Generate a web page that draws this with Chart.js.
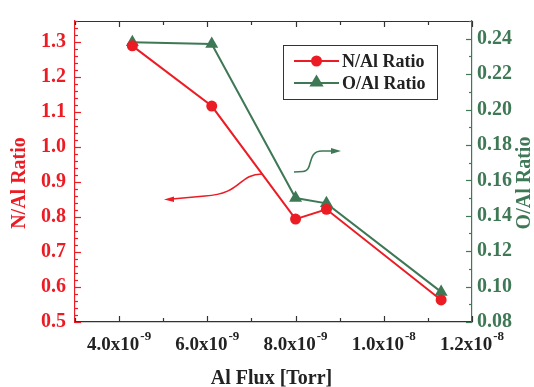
<!DOCTYPE html>
<html>
<head>
<meta charset="utf-8">
<script src="https://cdn.jsdelivr.net/npm/chart.js@4.4.1/dist/chart.umd.min.js"></script>
<style>
  html, body { margin: 0; padding: 0; background: #fff; }
</style>
</head>
<body>
<canvas id="myChart" width="534" height="387"></canvas>
<script>
// data
const alFlux = [4.3e-9, 6.1e-9, 8.0e-9, 8.7e-9, 1.13e-8];
const nAlRatio = [1.289, 1.117, 0.794, 0.822, 0.563];
const oAlRatio = [0.238, 0.237, 0.150, 0.147, 0.097];

const xTickVals = [4e-9, 6e-9, 8e-9, 1e-8, 1.2e-8];
const xTickMant = ["4.0x10", "6.0x10", "8.0x10", "1.0x10", "1.2x10"];
const xTickExp = ["-9", "-9", "-9", "-8", "-8"];
const leftTicks = [0.5, 0.6, 0.7, 0.8, 0.9, 1.0, 1.1, 1.2, 1.3];
const rightTicks = [0.08, 0.10, 0.12, 0.14, 0.16, 0.18, 0.20, 0.22, 0.24];

const RED = "#ec1c24";
const GREEN = "#3e7855";
const FONT = "'Liberation Serif', 'Times New Roman', serif";

function pts(xs, ys) {
  let out = [];
  for (let i = 0; i < xs.length; i++) out.push({ x: xs[i], y: ys[i] });
  return out;
}

function triangle(ctx, x, y, r) {
  ctx.beginPath();
  ctx.moveTo(x, y - r);
  ctx.lineTo(x + r * 0.95, y + r * 0.6);
  ctx.lineTo(x - r * 0.95, y + r * 0.6);
  ctx.closePath();
  ctx.fill();
}

const decor = {
  id: "decor",
  afterDraw(chart) {
    const ctx = chart.ctx;
    const a = chart.chartArea;
    const xs = chart.scales.x, yl = chart.scales.yL, yr = chart.scales.yR;
    ctx.save();

    // top frame line
    ctx.strokeStyle = "#333";
    ctx.lineWidth = 1.2;
    ctx.beginPath();
    ctx.moveTo(a.left, a.top + 0.5);
    ctx.lineTo(a.right, a.top + 0.5);
    ctx.stroke();

    // inward ticks on x (bottom and top)
    for (let i = 3; i <= 12; i++) {
      const px = Math.round(xs.getPixelForValue(i * 1e-9)) + 0.5;
      const len = i % 2 == 0 ? 6 : 4;
      ctx.beginPath();
      ctx.moveTo(px, a.bottom); ctx.lineTo(px, a.bottom - len);
      ctx.moveTo(px, a.top); ctx.lineTo(px, a.top + len);
      ctx.stroke();
    }

    // left axis ticks
    ctx.strokeStyle = RED;
    for (let i = 0; i <= 43; i++) {
      const py = Math.round(yl.getPixelForValue(0.5 + i * 0.02)) + 0.5;
      const len = i % 5 == 0 ? 6 : 3;
      ctx.beginPath();
      ctx.moveTo(a.left, py); ctx.lineTo(a.left + len, py);
      ctx.stroke();
    }

    // right axis ticks
    ctx.strokeStyle = GREEN;
    for (let i = 8; i <= 25; i++) {
      const py = Math.round(yr.getPixelForValue(i * 0.01)) + 0.5;
      const len = i % 2 == 0 ? 6 : 3;
      ctx.beginPath();
      ctx.moveTo(a.right, py); ctx.lineTo(a.right - len, py);
      ctx.stroke();
    }

    // x tick labels with superscript exponents
    ctx.fillStyle = "#222";
    ctx.textBaseline = "alphabetic";
    for (let i = 0; i < xTickVals.length; i++) {
      const px = xs.getPixelForValue(xTickVals[i]);
      ctx.font = "bold 19px " + FONT;
      const w1 = ctx.measureText(xTickMant[i]).width;
      ctx.font = "bold 13px " + FONT;
      const w2 = ctx.measureText(xTickExp[i]).width;
      const x0 = px - (w1 + w2 + 1) / 2;
      ctx.font = "bold 19px " + FONT;
      ctx.textAlign = "left";
      ctx.fillText(xTickMant[i], x0, 350);
      ctx.font = "bold 13px " + FONT;
      ctx.fillText(xTickExp[i], x0 + w1 + 1, 340);
    }

    // axis titles
    ctx.font = "bold 20px " + FONT;
    ctx.textAlign = "center";
    ctx.textBaseline = "middle";
    ctx.fillStyle = "#222";
    ctx.fillText("Al Flux [Torr]", (a.left + a.right) / 2 - 2, 379);

    ctx.save();
    ctx.translate(20, 183);
    ctx.rotate(-Math.PI / 2);
    ctx.fillStyle = RED;
    ctx.fillText("N/Al Ratio", 0, 0);
    ctx.restore();

    ctx.save();
    ctx.translate(525, 183);
    ctx.rotate(-Math.PI / 2);
    ctx.fillStyle = GREEN;
    ctx.fillText("O/Al Ratio", 0, 0);
    ctx.restore();

    // legend
    ctx.strokeStyle = "#333";
    ctx.lineWidth = 1;
    ctx.strokeRect(283.5, 45.5, 154, 54);
    ctx.lineWidth = 2;
    ctx.strokeStyle = RED;
    ctx.beginPath(); ctx.moveTo(294, 61); ctx.lineTo(339, 61); ctx.stroke();
    ctx.fillStyle = RED;
    ctx.beginPath(); ctx.arc(316.5, 61, 5.5, 0, Math.PI * 2); ctx.fill();
    ctx.strokeStyle = GREEN;
    ctx.beginPath(); ctx.moveTo(294, 83); ctx.lineTo(339, 83); ctx.stroke();
    ctx.fillStyle = GREEN;
    triangle(ctx, 316.5, 82, 7.5);
    ctx.fillStyle = "#222";
    ctx.font = "bold 18px " + FONT;
    ctx.textAlign = "left";
    ctx.fillText("N/Al Ratio", 342, 62);
    ctx.fillText("O/Al Ratio", 342, 84);

    // curved arrows pointing to each axis
    ctx.lineWidth = 1.6;
    ctx.strokeStyle = RED;
    ctx.fillStyle = RED;
    ctx.beginPath();
    ctx.moveTo(262, 174);
    ctx.bezierCurveTo(238, 174, 242, 194, 205, 196);
    ctx.lineTo(172, 199);
    ctx.stroke();
    ctx.beginPath();
    ctx.moveTo(164, 199.5); ctx.lineTo(174, 196.5); ctx.lineTo(174, 202); ctx.closePath();
    ctx.fill();

    ctx.strokeStyle = GREEN;
    ctx.fillStyle = GREEN;
    ctx.beginPath();
    ctx.moveTo(294, 172);
    ctx.lineTo(303, 171.5);
    ctx.bezierCurveTo(314, 171, 306, 151, 322, 151);
    ctx.lineTo(333, 151);
    ctx.stroke();
    ctx.beginPath();
    ctx.moveTo(341, 151); ctx.lineTo(331, 148); ctx.lineTo(331, 154); ctx.closePath();
    ctx.fill();

    ctx.restore();
  }
};

const config = {
  type: "line",
  data: {
    datasets: [
      {
        label: "N/Al Ratio",
        data: pts(alFlux, nAlRatio),
        yAxisID: "yL",
        borderColor: RED,
        backgroundColor: RED,
        borderWidth: 2,
        pointRadius: 5.5,
        pointBorderWidth: 0,
        pointStyle: "circle",
      },
      {
        label: "O/Al Ratio",
        data: pts(alFlux, oAlRatio),
        yAxisID: "yR",
        borderColor: GREEN,
        backgroundColor: GREEN,
        borderWidth: 2,
        pointRadius: 7.5,
        pointBorderWidth: 0,
        pointStyle: "triangle",
      },
    ],
  },
  options: {
    responsive: false,
    animation: false,
    layout: { padding: { top: 13, left: 0, right: 0, bottom: 0 } },
    plugins: { legend: { display: false }, tooltip: { enabled: false } },
    scales: {
      x: {
        type: "linear",
        min: 3e-9,
        max: 1.2e-8,
        grid: { display: false },
        border: { display: true, color: "#333", width: 1.2 },
        ticks: { display: false },
        afterFit: function (s) { s.height = 65; },
      },
      yL: {
        type: "linear",
        position: "left",
        min: 0.5,
        max: 1.36,
        grid: { display: false, drawTicks: false },
        border: { display: true, color: RED, width: 1.2 },
        afterBuildTicks: function (s) { s.ticks = leftTicks.map(v => ({ value: v })); },
        ticks: {
          color: RED,
          padding: 9,
          font: { family: FONT, size: 20, weight: "bold" },
          callback: v => v.toFixed(1),
        },
        afterFit: function (s) { s.width = 75; },
      },
      yR: {
        type: "linear",
        position: "right",
        min: 0.08,
        max: 0.25,
        grid: { display: false, drawTicks: false },
        border: { display: true, color: GREEN, width: 1.2 },
        afterBuildTicks: function (s) { s.ticks = rightTicks.map(v => ({ value: v })); },
        ticks: {
          color: GREEN,
          padding: 5,
          font: { family: FONT, size: 20, weight: "bold" },
          callback: v => v.toFixed(2),
        },
        afterFit: function (s) { s.width = 62; },
      },
    },
  },
  plugins: [decor],
};

let myChart = new Chart(document.getElementById("myChart"), config);
</script>
</body>
</html>
